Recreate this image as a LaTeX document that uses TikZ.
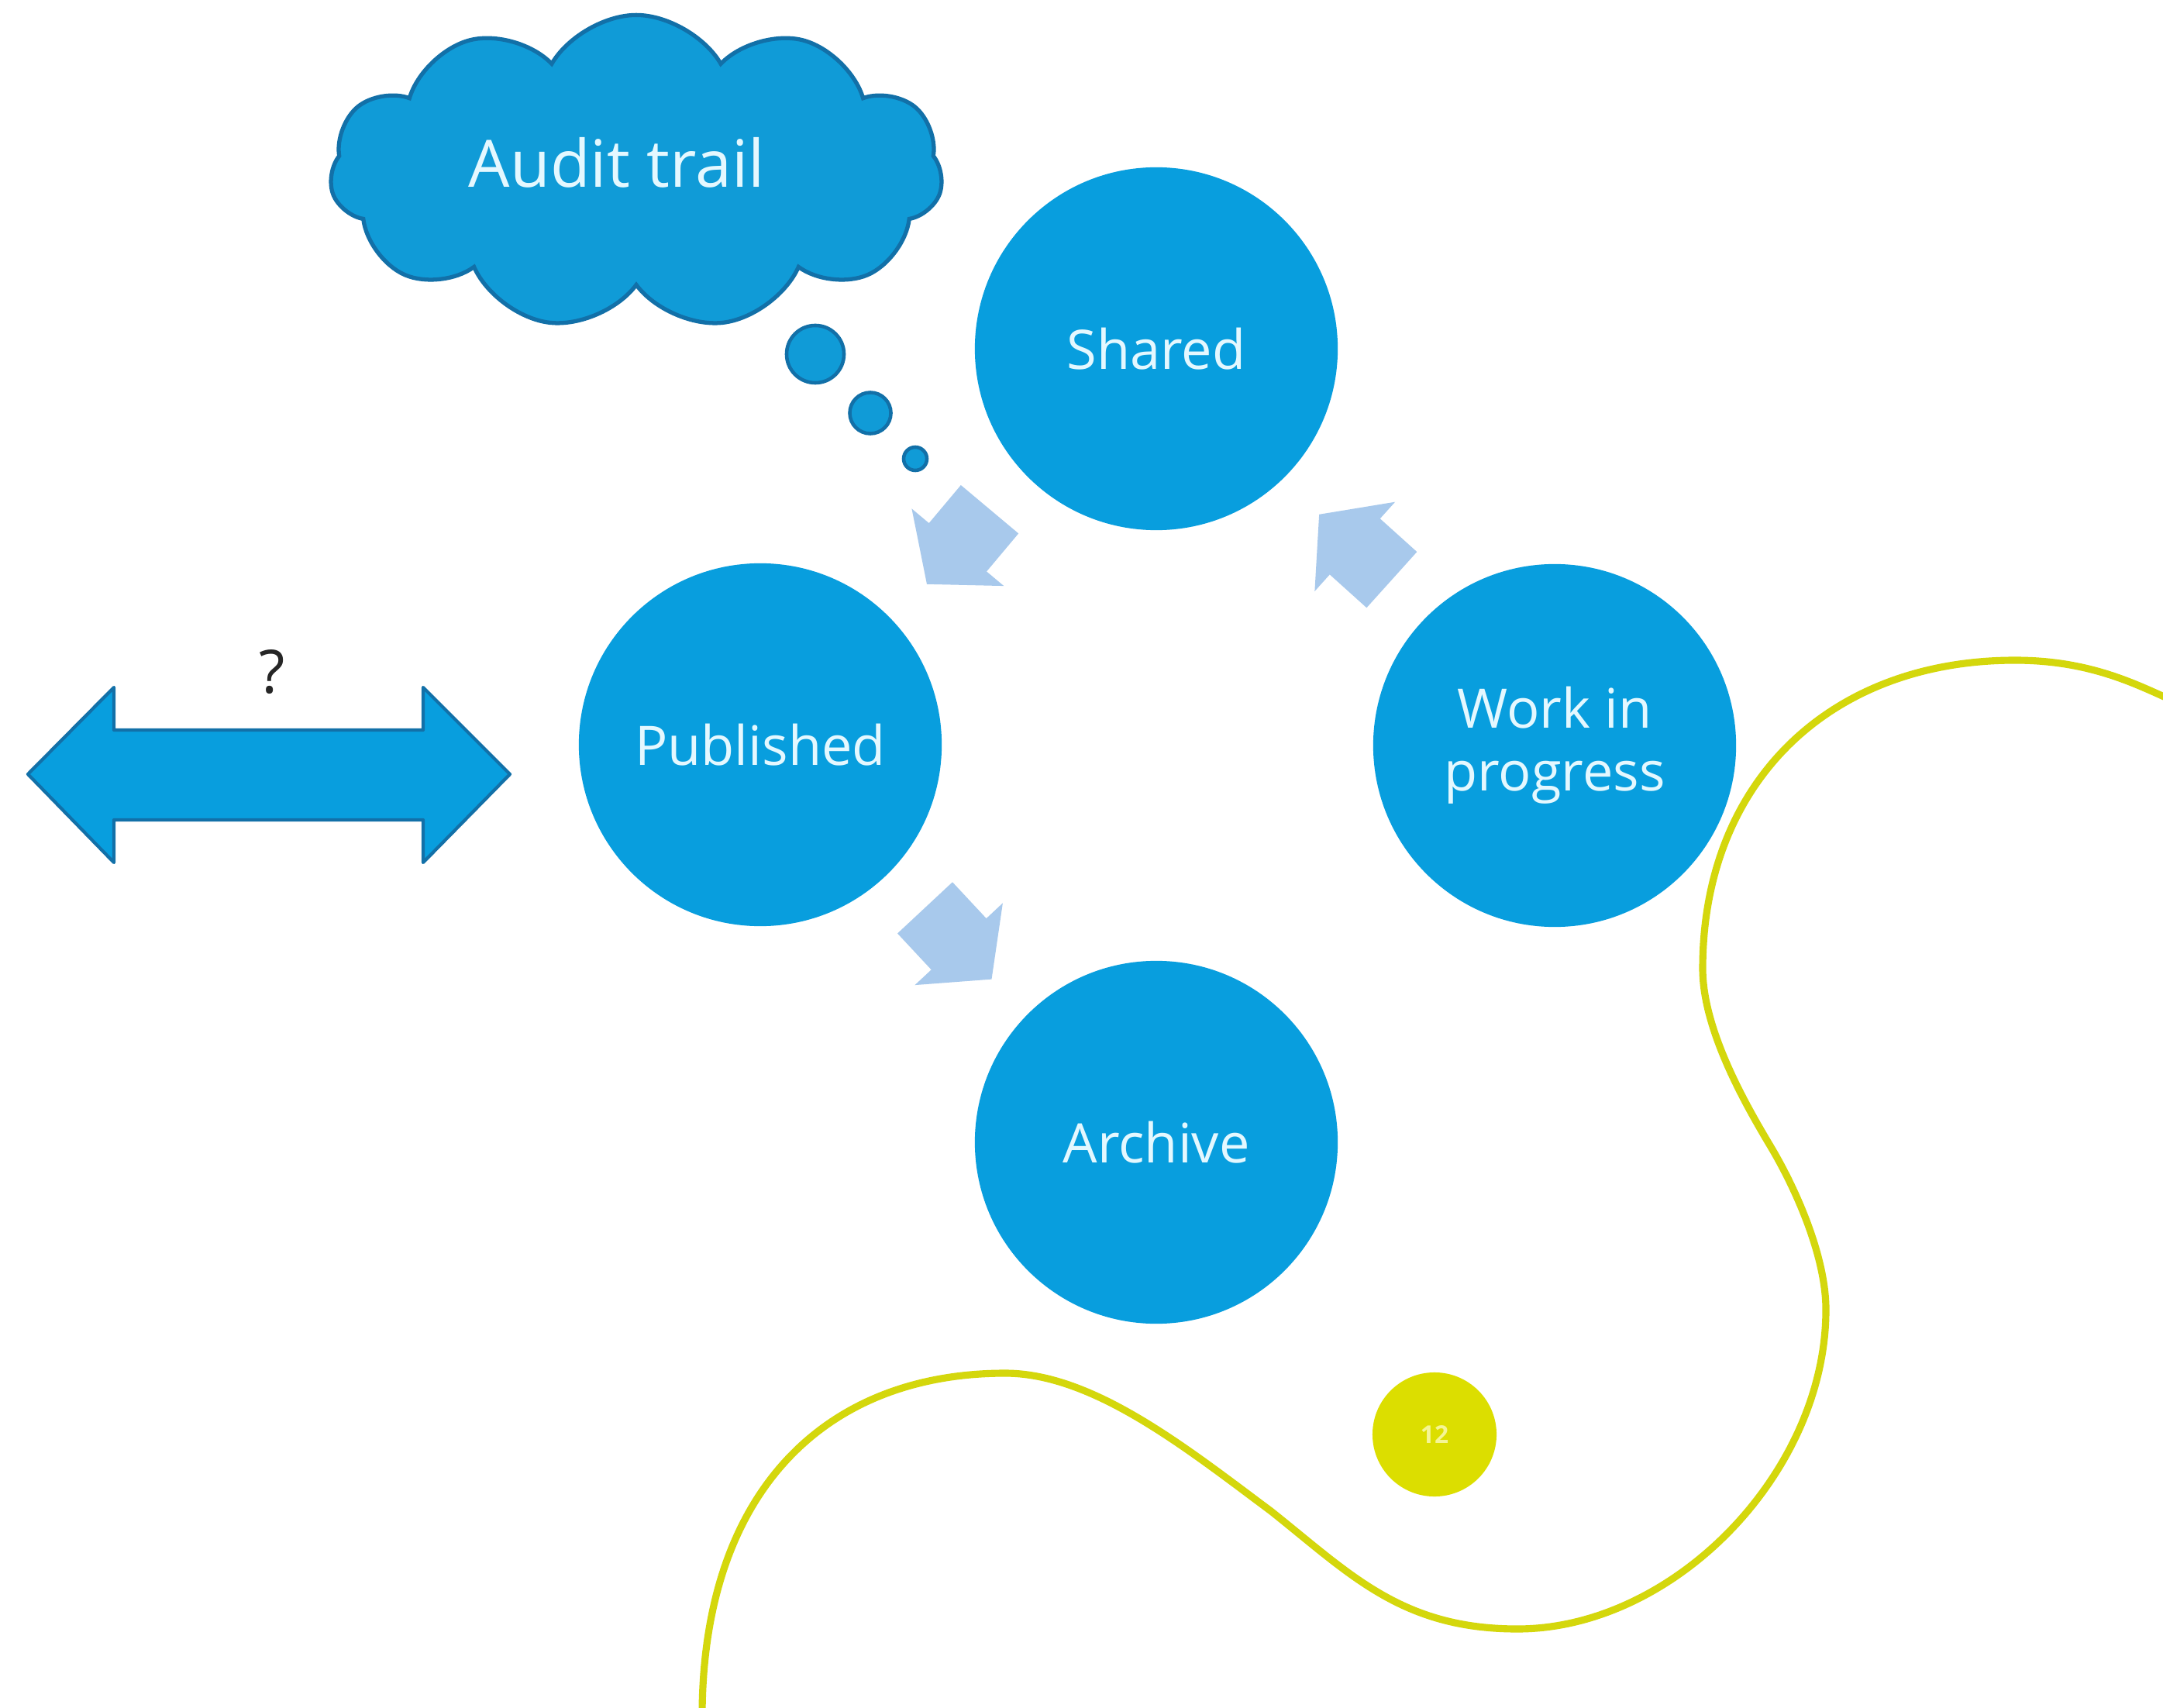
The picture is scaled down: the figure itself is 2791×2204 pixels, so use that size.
\documentclass[tikz,border=0pt]{standalone}
\usepackage{fontspec}
\setmainfont{Open Sans}
\usetikzlibrary{shapes.symbols,calc}
\definecolor{mainblue}{RGB}{8,158,222}
\definecolor{cloudblue}{RGB}{16,155,215}
\definecolor{cloudedge}{RGB}{18,112,168}
\definecolor{paleblue}{RGB}{168,201,236}
\definecolor{txtcyan}{RGB}{228,248,255}
\definecolor{limeline}{RGB}{212,215,12}
\definecolor{limefill}{RGB}{220,222,0}
\definecolor{numtxt}{RGB}{245,245,150}
\begin{document}
\begin{tikzpicture}[x=0.01cm,y=-0.01cm,
  stage/.style={circle, fill=mainblue, minimum size=4.68cm, inner sep=0pt,
    text=txtcyan, font=\fontsize{20}{23}\selectfont, align=center},
  bubble/.style={circle, fill=cloudblue, draw=cloudedge, line width=1.3pt, inner sep=0pt},
  flowarr/.pic={\fill[paleblue] (0.63cm,0cm) -- (0.01cm,0.775cm) -- (0.01cm,0.485cm)
     -- (-0.63cm,0.485cm) -- (-0.63cm,-0.485cm) -- (0.01cm,-0.485cm)
     -- (0.01cm,-0.775cm) -- cycle;},
  bigarrow/.style={fill=mainblue, draw=cloudedge, line width=1.2pt, line join=round},
  curveline/.style={draw=limeline, line width=2.6pt}
]
\useasboundingbox (0,0) rectangle (2791,2204);
\fill[white] (0,0) rectangle (2791,2204);

% decorative yellow curve
\draw[curveline] (906,2215)
  .. controls (906,1930) and (1060,1772) .. (1297,1772)
  .. controls (1410,1772) and (1530,1868) .. (1640,1950)
  .. controls (1742,2031) and (1808,2102) .. (1958,2102)
  .. controls (2160,2102) and (2356,1900) .. (2356,1690)
  .. controls (2356,1620) and (2316,1532) .. (2285,1480)
  .. controls (2254,1428) and (2197,1330) .. (2197,1250)
  .. controls (2197,1010) and (2360,852) .. (2600,852)
  .. controls (2700,852) and (2760,885) .. (2810,907);

% page number
\node[circle, fill=limefill, minimum size=1.6cm, inner sep=0pt, text=numtxt,
  font=\fontsize{9}{10}\selectfont\bfseries] (page) at (1851,1851) {12};

% cloud
\node[cloud, cloud puffs=11, cloud puff arc=120, aspect=1.94, fill=cloudblue,
  draw=cloudedge, line width=1.5pt, minimum width=7.9cm, minimum height=4.05cm,
  inner sep=0pt] (cloud) at (821,222) {};
\node[text=txtcyan, font=\fontsize{24}{28}\selectfont] (audit) at (796,210) {Audit trail};

% thought bubbles
\node[bubble, minimum size=0.74cm] (b1) at (1052,457) {};
\node[bubble, minimum size=0.53cm] (b2) at (1123,533) {};
\node[bubble, minimum size=0.30cm] (b3) at (1181,592) {};

% stages
\node[stage] (shared) at (1492,450) {Shared};
\node[stage] (pub) at (981,961) {Published};
\node[stage] (wip) at (2006,962) {Work in\\progress};
\node[stage] (arch) at (1492,1474) {Archive};

% flow arrows (between the stages)
\pic[rotate=230] (a1) at ($(shared)!0.5!(pub)$) {flowarr};
\pic[rotate=138] (a2) at ($(wip)!0.5!(shared)$) {flowarr};
\pic[rotate=-47] (a3) at ($(pub)!0.5!(arch)$) {flowarr};

% double arrow
\draw[bigarrow] (36,999) -- (147,887) -- (147,942) -- (546,942) -- (546,887) -- (658,999)
  -- (546,1113) -- (546,1058) -- (147,1058) -- (147,1113) -- cycle;
\node[text=black!85, font=\fontsize{22}{26}\selectfont] (q) at (351,867) {?};
\end{tikzpicture}
\end{document}
